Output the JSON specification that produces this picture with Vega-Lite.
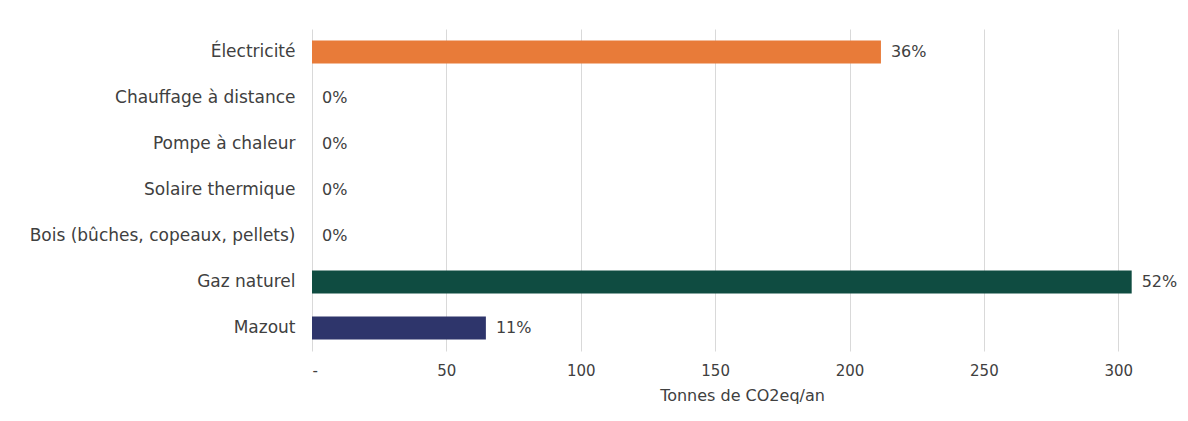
{
  "$schema": "https://vega.github.io/schema/vega-lite/v6.json",
  "autosize": "none",
  "width": 860,
  "height": 322,
  "padding": {"left": 312, "top": 29, "right": 16, "bottom": 70},
  "background": "white",
  "config": {
    "font": "DejaVu Sans",
    "view": {"stroke": null},
    "axis": {"labelColor": "#404040", "titleColor": "#404040", "labelFont": "DejaVu Sans", "titleFont": "DejaVu Sans"}
  },
  "data": {
    "values": [
      {"source": "Électricité", "value": 211.7, "pct": "36%", "color": "#E87B39"},
      {"source": "Chauffage à distance", "value": 0, "pct": "0%", "color": "#E87B39"},
      {"source": "Pompe à chaleur", "value": 0, "pct": "0%", "color": "#E87B39"},
      {"source": "Solaire thermique", "value": 0, "pct": "0%", "color": "#E87B39"},
      {"source": "Bois (bûches, copeaux, pellets)", "value": 0, "pct": "0%", "color": "#E87B39"},
      {"source": "Gaz naturel", "value": 305, "pct": "52%", "color": "#0F4C41"},
      {"source": "Mazout", "value": 64.7, "pct": "11%", "color": "#2E356B"}
    ]
  },
  "encoding": {
    "y": {
      "field": "source", "type": "nominal", "sort": null,
      "scale": {"paddingInner": 0.5, "paddingOuter": 0.25},
      "axis": {"title": null, "domain": false, "ticks": false, "labelPadding": 17, "labelFontSize": 17, "labelLimit": 0}
    },
    "x": {
      "field": "value", "type": "quantitative",
      "scale": {"domain": [0, 320], "nice": false},
      "axis": {
        "values": [0, 50, 100, 150, 200, 250, 300],
        "labelExpr": "datum.value == 0 ? '-' : datum.label",
        "title": "Tonnes de CO2eq/an", "titleFontSize": 16, "titleFontWeight": "normal", "titlePadding": 9,
        "labelFontSize": 15, "labelPadding": 12,
        "domain": false, "ticks": false,
        "grid": true, "gridColor": "#d9d9d9", "gridWidth": 1
      }
    }
  },
  "layer": [
    {
      "mark": {"type": "bar"},
      "encoding": {"color": {"field": "color", "type": "nominal", "scale": null}}
    },
    {
      "mark": {"type": "text", "align": "left", "dx": 10, "fontSize": 16, "color": "#404040"},
      "encoding": {"text": {"field": "pct"}}
    }
  ]
}
